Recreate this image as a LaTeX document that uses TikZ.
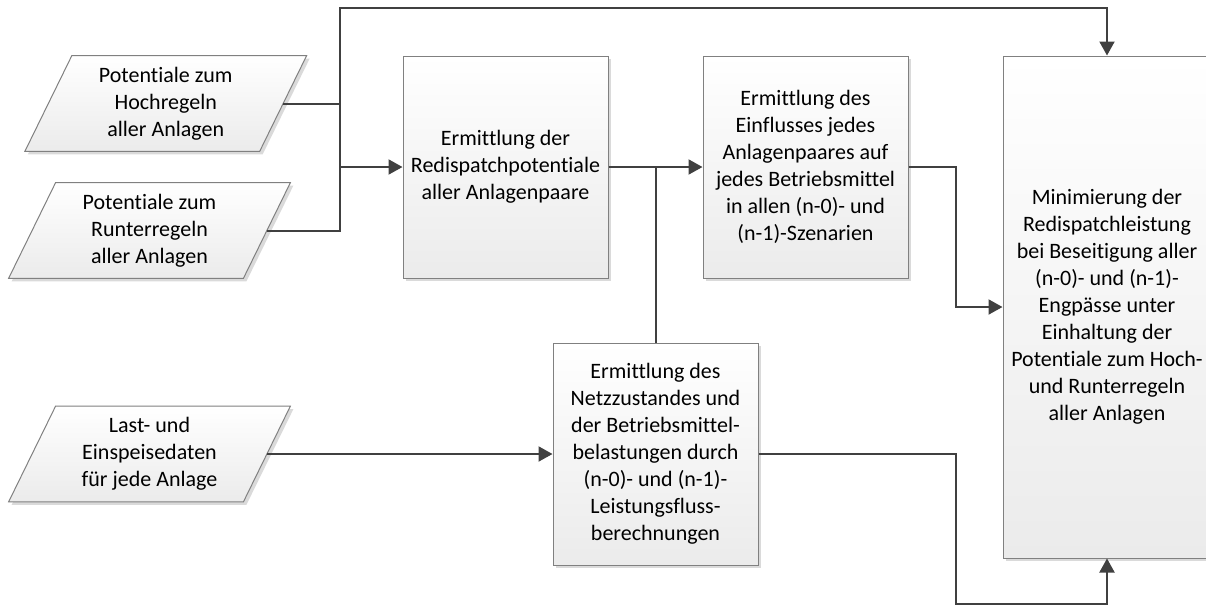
\documentclass[tikz,border=0pt]{standalone}
\usepackage{fontspec}
\setmainfont[Ligatures=NoCommon]{Carlito}
\usetikzlibrary{arrows.meta,calc,backgrounds}
\definecolor{bordergray}{HTML}{808080}
\definecolor{linegray}{HTML}{404040}
\definecolor{fillgray}{HTML}{EBEBEB}
\definecolor{shadowgray}{HTML}{DADADA}
\begin{document}
\begin{tikzpicture}[x=0.5pt,y=-0.5pt,
  txt/.style={align=center, inner sep=0pt, font=\fontsize{11}{13.5}\selectfont},
  box/.style={txt, draw=bordergray, line width=0.5pt, top color=white, bottom color=fillgray,
              minimum width=102.5pt, minimum height=111pt},
  para/.style={txt, minimum width=117pt, minimum height=47.5pt},
  shade/.style={fill=shadowgray},
  parafill/.style={draw=bordergray, line width=0.5pt, top color=white, bottom color=fillgray},
  conn/.style={draw=linegray, line width=1pt},
  arr/.style={conn, -{Triangle[length=7pt,width=7.5pt]}},
]
\useasboundingbox (0,0) rectangle (1206,606);

% input parallelograms (text nodes; shapes drawn on background)
\node[para] (p1) at (165.75,103.5) {Potentiale zum\\Hochregeln\\aller Anlagen};
\node[para] (p2) at (149.5,230.5) {Potentiale zum\\Runterregeln\\aller Anlagen};
\node[para] (p3) at (149.5,454) {Last- und\\Einspeisedaten\\für jede Anlage};

\begin{scope}[on background layer]
  \foreach \x/\y/\h in {505.5/167/222, 805.5/167/222, 655.5/454/222}{
    \fill[shade] (\x-102.5+3,\y-\h/2+3) rectangle (\x+102.5+3,\y+\h/2+3);
  }
  \fill[shade] (1003+3,56+3) rectangle (1213,558+3);
  \foreach \p in {p1,p2,p3}{
    \fill[shade] ($(\p.south west)+(-23.5+3,3)$) -- ($(\p.north west)+(23.5+3,3)$)
      -- ($(\p.north east)+(23.5+3,3)$) -- ($(\p.south east)+(-23.5+3,3)$) -- cycle;
    \path[parafill] ($(\p.south west)+(-23.5,0)$) -- ($(\p.north west)+(23.5,0)$)
      -- ($(\p.north east)+(23.5,0)$) -- ($(\p.south east)+(-23.5,0)$) -- cycle;
  }
\end{scope}

\node[box] (r1) at (505.5,167) {Ermittlung der\\Redispatchpotentiale\\aller Anlagenpaare};
\node[box] (r2) at (805.5,167) {Ermittlung des\\Einflusses jedes\\Anlagenpaares auf\\jedes Betriebsmittel\\in allen (n-0)- und\\(n-1)-Szenarien};
\node[box] (r3) at (655.5,454) {Ermittlung des\\Netzzustandes und\\der Betriebsmittel-\\belastungen durch\\(n-0)- und (n-1)-\\Leistungsfluss-\\berechnungen};
\node[box, minimum width=104pt, minimum height=251pt] (r4) at (1107,307) {Minimierung der\\Redispatchleistung\\bei Beseitigung aller\\(n-0)- und (n-1)-\\Engpässe unter\\Einhaltung der\\Potentiale zum Hoch-\\und Runterregeln\\aller Anlagen};

% junction coordinates
\coordinate (top1) at (340,8);
\coordinate (j1) at (340,102);
\coordinate (mergeL) at (340,167);
\coordinate (j2) at (956,200);
\coordinate (j3) at (956,604);

% connectors
\draw[arr] (p1.east) -| (top1) -| (r4.north);
\draw[conn] (p2.east) -| (j1);
\draw[arr] (mergeL) -- (r1.west);
\draw[arr] (r1.east) -- (r2.west);
\draw[conn] (r3.north) -- (r3.north |- r1.east);
\draw[arr] (p3.east) -- (r3.west);
\draw[arr] (r2.east) -| (j2) |- (r4.west);
\draw[arr] (r3.east) -| (j3) -| (r4.south);
\end{tikzpicture}
\end{document}
